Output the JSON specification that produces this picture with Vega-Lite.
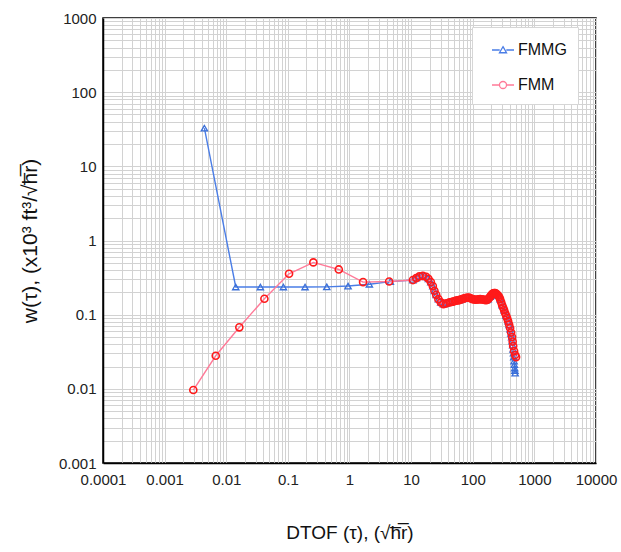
{
  "$schema": "https://vega.github.io/schema/vega-lite/v6.json",
  "width": 493,
  "height": 445,
  "autosize": {"type": "none"},
  "padding": {"left": 103, "top": 18, "right": 25, "bottom": 89},
  "background": "white",
  "config": {
    "view": {"stroke": "#000000", "strokeWidth": 1.5},
    "font": "Liberation Sans",
    "axis": {
      "labelFont": "Liberation Sans",
      "titleFont": "Liberation Sans",
      "labelColor": "#222222",
      "titleColor": "#111111",
      "titleFontWeight": "normal",
      "gridColor": "#d2d2d2",
      "gridWidth": 1,
      "domainColor": "#000000",
      "domainWidth": 1.5,
      "ticks": false,
      "labelOverlap": false,
      "labelFlush": false,
      "labelFontSize": 15
    }
  },
  "data": {
    "values": [
      {"s": "FMMG", "x": 0.00442, "y": 32.7},
      {"s": "FMMG", "x": 0.01426, "y": 0.236},
      {"s": "FMMG", "x": 0.0358, "y": 0.236},
      {"s": "FMMG", "x": 0.0845, "y": 0.236},
      {"s": "FMMG", "x": 0.19, "y": 0.236},
      {"s": "FMMG", "x": 0.428, "y": 0.237},
      {"s": "FMMG", "x": 0.948, "y": 0.243},
      {"s": "FMMG", "x": 2.1, "y": 0.257},
      {"s": "FMMG", "x": 4.6, "y": 0.279},
      {"s": "FMMG", "x": 10.7, "y": 0.293},
      {"s": "FMMG", "x": 12.1, "y": 0.311},
      {"s": "FMMG", "x": 13.6, "y": 0.328},
      {"s": "FMMG", "x": 15.5, "y": 0.334},
      {"s": "FMMG", "x": 17.5, "y": 0.324},
      {"s": "FMMG", "x": 19.1, "y": 0.305},
      {"s": "FMMG", "x": 20.9, "y": 0.275},
      {"s": "FMMG", "x": 22.5, "y": 0.243},
      {"s": "FMMG", "x": 23.9, "y": 0.21},
      {"s": "FMMG", "x": 25.5, "y": 0.185},
      {"s": "FMMG", "x": 27.7, "y": 0.162},
      {"s": "FMMG", "x": 30.3, "y": 0.1465},
      {"s": "FMMG", "x": 33.4, "y": 0.139},
      {"s": "FMMG", "x": 37.0, "y": 0.142},
      {"s": "FMMG", "x": 41.9, "y": 0.1465},
      {"s": "FMMG", "x": 48.1, "y": 0.15},
      {"s": "FMMG", "x": 53.8, "y": 0.155},
      {"s": "FMMG", "x": 60.1, "y": 0.157},
      {"s": "FMMG", "x": 67.3, "y": 0.162},
      {"s": "FMMG", "x": 75.3, "y": 0.1675},
      {"s": "FMMG", "x": 84.2, "y": 0.17},
      {"s": "FMMG", "x": 94.2, "y": 0.165},
      {"s": "FMMG", "x": 105.4, "y": 0.16},
      {"s": "FMMG", "x": 117.9, "y": 0.16},
      {"s": "FMMG", "x": 131.9, "y": 0.162},
      {"s": "FMMG", "x": 147.6, "y": 0.16},
      {"s": "FMMG", "x": 165.1, "y": 0.157},
      {"s": "FMMG", "x": 177.8, "y": 0.162},
      {"s": "FMMG", "x": 191.6, "y": 0.175},
      {"s": "FMMG", "x": 206.4, "y": 0.19},
      {"s": "FMMG", "x": 222.4, "y": 0.1955},
      {"s": "FMMG", "x": 239.6, "y": 0.192},
      {"s": "FMMG", "x": 258.1, "y": 0.181},
      {"s": "FMMG", "x": 278.1, "y": 0.162},
      {"s": "FMMG", "x": 299.6, "y": 0.1347},
      {"s": "FMMG", "x": 322.8, "y": 0.1153},
      {"s": "FMMG", "x": 347.8, "y": 0.0972},
      {"s": "FMMG", "x": 374.7, "y": 0.082},
      {"s": "FMMG", "x": 389.2, "y": 0.073},
      {"s": "FMMG", "x": 403.7, "y": 0.064},
      {"s": "FMMG", "x": 416.0, "y": 0.056},
      {"s": "FMMG", "x": 428.1, "y": 0.0499},
      {"s": "FMMG", "x": 436.0, "y": 0.044},
      {"s": "FMMG", "x": 444.6, "y": 0.0389},
      {"s": "FMMG", "x": 451.0, "y": 0.034},
      {"s": "FMMG", "x": 458.3, "y": 0.0303},
      {"s": "FMMG", "x": 463.0, "y": 0.0268},
      {"s": "FMMG", "x": 468.5, "y": 0.0237},
      {"s": "FMMG", "x": 473.0, "y": 0.0212},
      {"s": "FMMG", "x": 478.5, "y": 0.0191},
      {"s": "FMMG", "x": 483.0, "y": 0.0176},
      {"s": "FMMG", "x": 487.6, "y": 0.0163},
      {"s": "FMM", "x": 0.00292, "y": 0.00964},
      {"s": "FMM", "x": 0.00675, "y": 0.0279},
      {"s": "FMM", "x": 0.0163, "y": 0.0675},
      {"s": "FMM", "x": 0.0416, "y": 0.164},
      {"s": "FMM", "x": 0.1045, "y": 0.356},
      {"s": "FMM", "x": 0.259, "y": 0.507},
      {"s": "FMM", "x": 0.67, "y": 0.407},
      {"s": "FMM", "x": 1.66, "y": 0.275},
      {"s": "FMM", "x": 4.4, "y": 0.28},
      {"s": "FMM", "x": 10.7, "y": 0.293},
      {"s": "FMM", "x": 12.1, "y": 0.311},
      {"s": "FMM", "x": 13.6, "y": 0.328},
      {"s": "FMM", "x": 15.5, "y": 0.334},
      {"s": "FMM", "x": 17.5, "y": 0.324},
      {"s": "FMM", "x": 19.1, "y": 0.305},
      {"s": "FMM", "x": 20.9, "y": 0.275},
      {"s": "FMM", "x": 22.5, "y": 0.243},
      {"s": "FMM", "x": 23.9, "y": 0.21},
      {"s": "FMM", "x": 25.5, "y": 0.185},
      {"s": "FMM", "x": 27.7, "y": 0.162},
      {"s": "FMM", "x": 30.3, "y": 0.1465},
      {"s": "FMM", "x": 33.4, "y": 0.139},
      {"s": "FMM", "x": 37.0, "y": 0.142},
      {"s": "FMM", "x": 41.9, "y": 0.1465},
      {"s": "FMM", "x": 45.0, "y": 0.148},
      {"s": "FMM", "x": 48.1, "y": 0.15},
      {"s": "FMM", "x": 51.0, "y": 0.153},
      {"s": "FMM", "x": 53.8, "y": 0.155},
      {"s": "FMM", "x": 57.0, "y": 0.156},
      {"s": "FMM", "x": 60.1, "y": 0.157},
      {"s": "FMM", "x": 63.5, "y": 0.16},
      {"s": "FMM", "x": 67.3, "y": 0.162},
      {"s": "FMM", "x": 71.2, "y": 0.165},
      {"s": "FMM", "x": 75.3, "y": 0.1675},
      {"s": "FMM", "x": 79.6, "y": 0.169},
      {"s": "FMM", "x": 84.2, "y": 0.17},
      {"s": "FMM", "x": 89.0, "y": 0.168},
      {"s": "FMM", "x": 94.2, "y": 0.165},
      {"s": "FMM", "x": 99.6, "y": 0.162},
      {"s": "FMM", "x": 105.4, "y": 0.16},
      {"s": "FMM", "x": 111.4, "y": 0.159},
      {"s": "FMM", "x": 117.9, "y": 0.16},
      {"s": "FMM", "x": 124.7, "y": 0.161},
      {"s": "FMM", "x": 131.9, "y": 0.162},
      {"s": "FMM", "x": 139.6, "y": 0.161},
      {"s": "FMM", "x": 147.6, "y": 0.16},
      {"s": "FMM", "x": 156.1, "y": 0.158},
      {"s": "FMM", "x": 165.1, "y": 0.157},
      {"s": "FMM", "x": 171.3, "y": 0.159},
      {"s": "FMM", "x": 177.8, "y": 0.162},
      {"s": "FMM", "x": 184.6, "y": 0.168},
      {"s": "FMM", "x": 191.6, "y": 0.175},
      {"s": "FMM", "x": 198.8, "y": 0.183},
      {"s": "FMM", "x": 206.4, "y": 0.19},
      {"s": "FMM", "x": 214.2, "y": 0.194},
      {"s": "FMM", "x": 222.4, "y": 0.1955},
      {"s": "FMM", "x": 230.8, "y": 0.195},
      {"s": "FMM", "x": 239.6, "y": 0.192},
      {"s": "FMM", "x": 248.7, "y": 0.187},
      {"s": "FMM", "x": 258.1, "y": 0.181},
      {"s": "FMM", "x": 268.5, "y": 0.1727},
      {"s": "FMM", "x": 278.1, "y": 0.162},
      {"s": "FMM", "x": 289.0, "y": 0.1479},
      {"s": "FMM", "x": 299.6, "y": 0.1347},
      {"s": "FMM", "x": 311.1, "y": 0.1247},
      {"s": "FMM", "x": 322.8, "y": 0.1153},
      {"s": "FMM", "x": 335.3, "y": 0.1052},
      {"s": "FMM", "x": 347.8, "y": 0.0972},
      {"s": "FMM", "x": 361.1, "y": 0.09},
      {"s": "FMM", "x": 374.7, "y": 0.082},
      {"s": "FMM", "x": 389.2, "y": 0.0736},
      {"s": "FMM", "x": 403.7, "y": 0.066},
      {"s": "FMM", "x": 419.4, "y": 0.0574},
      {"s": "FMM", "x": 434.9, "y": 0.0499},
      {"s": "FMM", "x": 444.6, "y": 0.0434},
      {"s": "FMM", "x": 452.9, "y": 0.0378},
      {"s": "FMM", "x": 468.5, "y": 0.0323},
      {"s": "FMM", "x": 487.6, "y": 0.0286},
      {"s": "FMM", "x": 504.8, "y": 0.0268}
    ]
  },
  "encoding": {
    "x": {
      "field": "x",
      "type": "quantitative",
      "scale": {"type": "log", "domain": [0.0001, 10000], "nice": false},
      "axis": {
        "title": "DTOF (τ), (√h̅r̅)",
        "titleFontSize": 19,
        "titlePadding": 36,
        "labelPadding": 9,
        "grid": true,
        "values": [0.0001,0.0002,0.0003,0.0004,0.0005,0.0006,0.0007,0.0008,0.0009,0.001,0.002,0.003,0.004,0.005,0.006,0.007,0.008,0.009,0.01,0.02,0.03,0.04,0.05,0.06,0.07,0.08,0.09,0.1,0.2,0.3,0.4,0.5,0.6,0.7,0.8,0.9,1,2,3,4,5,6,7,8,9,10,20,30,40,50,60,70,80,90,100,200,300,400,500,600,700,800,900,1000,2000,3000,4000,5000,6000,7000,8000,9000,10000],
        "labelExpr": "abs(log(datum.value)/LN10 - round(log(datum.value)/LN10)) < 1e-6 ? format(datum.value, '') : ''"
      }
    },
    "y": {
      "field": "y",
      "type": "quantitative",
      "scale": {"type": "log", "domain": [0.001, 1000], "nice": false},
      "axis": {
        "title": "w(τ), (x10³ ft³/√h̅r̅)",
        "titleFontSize": 21,
        "titlePadding": 18,
        "labelPadding": 7,
        "grid": true,
        "values": [0.001,0.002,0.003,0.004,0.005,0.006,0.007,0.008,0.009,0.01,0.02,0.03,0.04,0.05,0.06,0.07,0.08,0.09,0.1,0.2,0.3,0.4,0.5,0.6,0.7,0.8,0.9,1,2,3,4,5,6,7,8,9,10,20,30,40,50,60,70,80,90,100,200,300,400,500,600,700,800,900,1000],
        "labelExpr": "abs(log(datum.value)/LN10 - round(log(datum.value)/LN10)) < 1e-6 ? format(datum.value, '') : ''"
      }
    }
  },
  "layer": [
    {
      "transform": [{"filter": "datum.s === 'FMMG'"}],
      "mark": {"type": "line", "strokeWidth": 1.4},
      "encoding": {
        "color": {
          "field": "s",
          "type": "nominal",
          "scale": {"domain": ["FMMG", "FMM"], "range": ["#4a7de6", "#ff7a98"]},
          "legend": {
            "title": null,
            "orient": "none",
            "legendX": 369,
            "legendY": 9,
            "fillColor": "white",
            "strokeColor": "#d6d6d6",
            "padding": 11,
            "symbolOffset": 8,
            "rowPadding": 15,
            "labelFontSize": 16,
            "labelFont": "Liberation Sans",
            "labelColor": "#111111",
            "labelOffset": 3,
            "symbolSize": 484,
            "symbolStrokeWidth": 1.3,
            "encode": {
              "symbols": {
                "update": {
                  "shape": {"signal": "datum.value === 'FMMG' ? 'M-1,0H-0.3M0.3,0H1M0,-0.3L0.32,0.25L-0.32,0.25Z' : 'M-1,0H-0.32M0.32,0H1M0.32,0A0.32,0.32 0 1,1 -0.32,0A0.32,0.32 0 1,1 0.32,0Z'"},
                  "stroke": {"signal": "datum.value === 'FMMG' ? '#3f6fd8' : '#ff3a5a'"},
                  "fill": {"value": "transparent"},
                  "strokeWidth": {"value": 1.3}
                }
              }
            }
          }
        }
      }
    },
    {
      "transform": [{"filter": "datum.s === 'FMMG'"}],
      "mark": {"type": "point", "shape": "triangle-up", "filled": false, "color": "#3a6fd8", "strokeWidth": 1.3, "size": 40, "opacity": 1}
    },
    {
      "transform": [{"filter": "datum.s === 'FMM'"}],
      "mark": {"type": "line", "strokeWidth": 1.4},
      "encoding": {
        "color": {"field": "s", "type": "nominal"}
      }
    },
    {
      "transform": [{"filter": "datum.s === 'FMM'"}],
      "mark": {"type": "point", "shape": "circle", "filled": false, "color": "#ff1a1a", "strokeWidth": 1.6, "size": 50, "opacity": 1}
    }
  ]
}
